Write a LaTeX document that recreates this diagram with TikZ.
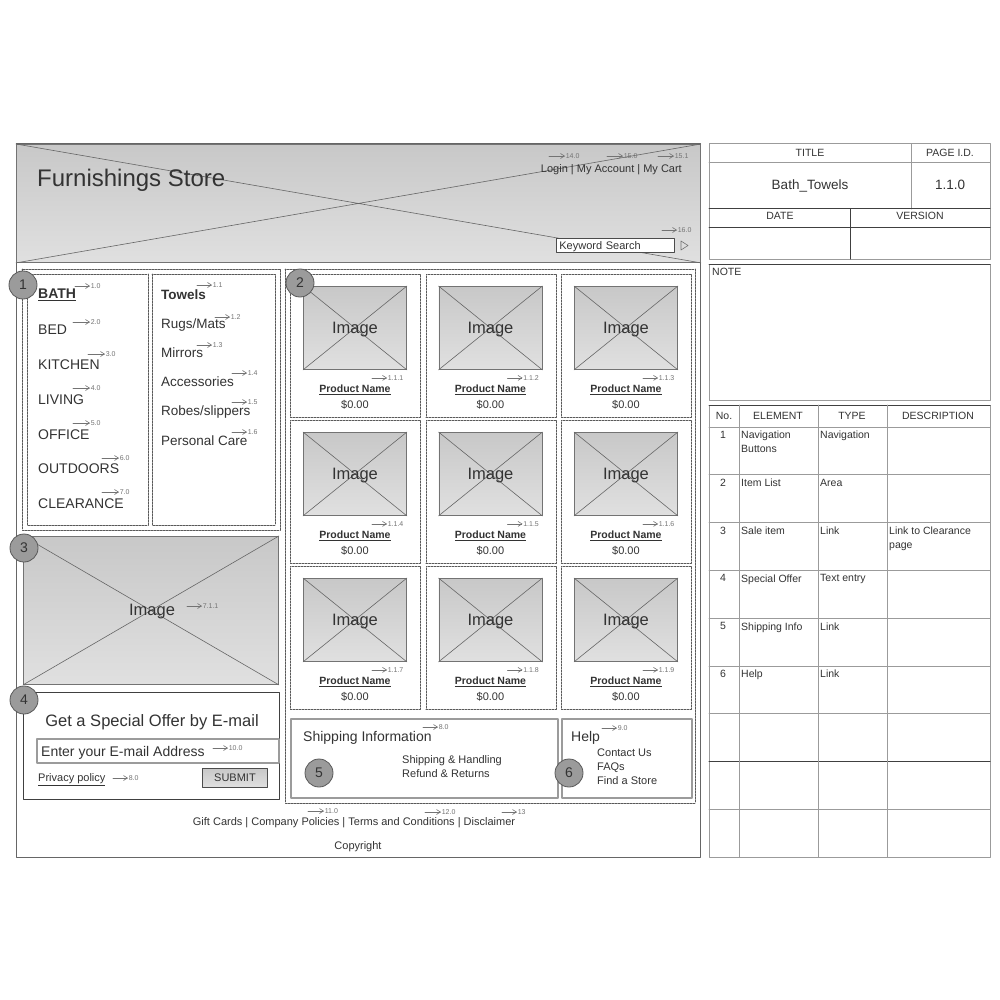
\documentclass[tikz,border=0pt]{standalone}
\usepackage{fontspec}
\setmainfont{Liberation Sans}
\usetikzlibrary{positioning,calc,arrows.meta}
\definecolor{ink}{RGB}{51,51,51}
\definecolor{soft}{RGB}{115,115,115}
\definecolor{shadetop}{RGB}{200,200,200}
\definecolor{shadebot}{RGB}{224,224,224}
\definecolor{rule}{RGB}{155,155,155}
\definecolor{markfill}{RGB}{155,155,155}
\newcommand{\fsz}[1]{\fontsize{#1}{#1}\selectfont}
% arrow + number tag: [length]{name}{start}{label}
\newcommand{\callout}[4][15]{%
  \coordinate (#2s) at (#3);
  \node[calltext, right=#1pt of #2s] (#2) {#4};
  \draw[callarrow] (#2s) -- (#2.west);
}
\begin{document}
\begin{tikzpicture}[x=1pt, y=-1pt, line cap=round, line join=round,
  font=\fsz{11}, >={Straight Barb[length=4pt,width=5pt]},
  txt/.style={inner sep=0pt, text=ink, text depth=0pt},
  calltext/.style={inner sep=0.6pt, text=soft, font=\fsz{7}},
  callarrow/.style={->, draw=soft, line width=0.6pt},
  marker/.style={circle, draw=black!65, fill=markfill, line width=0.8pt,
    minimum size=28pt, inner sep=0pt, text=ink, font=\fsz{14}},
  shadebox/.style={draw=black!55, line width=0.9pt, top color=shadetop,
    bottom color=shadebot, inner sep=0pt},
  xline/.style={draw=black!60, line width=0.6pt},
  dashbox/.style={draw=black!65, line width=0.6pt, dash pattern=on 2pt off 1pt},
  panel/.style={draw=rule, line width=1.4pt},
  grid/.style={draw=rule, line width=1pt},
  darkgrid/.style={draw=black!75, line width=1pt},
  navtext/.style={txt, font=\fsz{14}, anchor=west},
  subtext/.style={txt, font=\fsz{13.5}, anchor=west},
  celltxt/.style={txt, font=\fontsize{10.5}{14}\selectfont, align=left}]
\fill[white] (0,0) rectangle (1000,1000);
\useasboundingbox (0,0) rectangle (1000,1000);
% page frame and header
\draw[black!60, line width=1pt] (16,144) rectangle (700,857);
\node[shadebox, anchor=north west, minimum width=684pt, minimum height=118pt] (header) at (16,144) {};
\draw[xline] (header.north west) -- (header.south east) (header.south west) -- (header.north east);
\node[txt, font=\fsz{24}, anchor=west] (store) at (37,178) {Furnishings Store};
\node[txt, anchor=east] (account) at (682,169) {Login | My Account | My Cart};
\callout[16]{cl140}{549,156}{14.0}
\callout[16]{cl150}{607,156}{15.0}
\callout[16]{cl151}{658,156}{15.1}
\node[txt, draw=black!70, fill=white, line width=0.8pt, anchor=north west, minimum width=118pt,
  minimum height=14pt, inner xsep=3pt, text width=112pt] (search) at (556,238) {Keyword Search};
\draw[soft, line width=0.6pt] (681,241) -- (688,245.5) -- (681,250) -- cycle;
\callout{cl160}{662,230}{16.0}
% navigation
\draw[dashbox] (22,269) rectangle (280,530);
\draw[dashbox] (27,274) rectangle (148,525);
\draw[dashbox] (152,274) rectangle (275,525);
\node[navtext, font=\bfseries\fsz{14}] (bath) at (38,294) {\underline{BATH}};
\callout{clnav1}{75,286}{1.0}
\foreach \name/\ty/\cx/\cy/\lab [count=\i from 2] in {BED/330/73/322/2.0,
    KITCHEN/365/88/354/3.0, LIVING/400/73/388/4.0, OFFICE/435/73/423/5.0,
    OUTDOORS/469/102/458/6.0, CLEARANCE/504/102/492/7.0} {
  \node[navtext] (nav\i) at (38,\ty) {\name};
  \callout[17]{clnav\i}{\cx,\cy}{\lab}
}
\node[subtext, font=\bfseries\fsz{13.5}] (towels) at (161,295) {Towels};
\callout{clsub1}{197,285}{1.1}
\foreach \name/\ty/\cx/\cy/\lab [count=\i from 2] in {{Rugs/Mats}/324/215/317/1.2,
    Mirrors/353/197/345/1.3, Accessories/382/232/373/1.4,
    {Robes/slippers}/411/232/402/1.5, Personal Care/441/232/432/1.6} {
  \node[subtext] (sub\i) at (161,\ty) {\name};
  \callout{clsub\i}{\cx,\cy}{\lab}
}
\node[marker] (m1) at (23,285) {1};
% item list
\draw[dashbox] (285,269) rectangle (695,803);
\foreach \r in {0,1,2} {
  \foreach \c in {0,1,2} {
    \pgfmathsetmacro\cx{290+135.5*\c}
    \pgfmathsetmacro\cy{274+146*\r}
    \pgfmathtruncatemacro\k{3*\r+\c+1}
    \node[dashbox, inner sep=0pt, anchor=north west, minimum width=130pt, minimum height=143pt] (cell\k) at (\cx,\cy) {};
    \node[shadebox, anchor=north west, minimum width=103pt, minimum height=83pt] (img\k)
      at ([xshift=13pt, yshift=-12pt]cell\k.north west) {};
    \draw[xline] (img\k.north west) -- (img\k.south east) (img\k.south west) -- (img\k.north east);
    \node[txt, font=\fsz{16.5}] (imgtxt\k) at (img\k) {Image};
    \callout{clp\k}{$(img\k.south west)+(69,8)$}{1.1.\k}
    \node[txt, font=\bfseries\fsz{10.5}] (pname\k) at ($(img\k.south)+(0,19)$) {\underline{Product Name}};
    \node[txt, font=\fsz{11}] (price\k) at ($(img\k.south)+(0,35)$) {\$0.00};
  }
}
\node[marker] (m2) at (300,283) {2};
% sale item
\node[shadebox, anchor=north west, minimum width=255pt, minimum height=148pt] (sale) at (23,536) {};
\draw[xline] (sale.north west) -- (sale.south east) (sale.south west) -- (sale.north east);
\node[txt, font=\fsz{16.5}] (saletxt) at (152,610) {Image};
\callout{clsale}{187,606}{7.1.1}
\node[marker] (m3) at (24,548) {3};
% special offer
\draw[black!75, line width=1pt] (23,692) rectangle (279,799);
\node[txt, font=\fsz{16.5}] (offer) at (152,721) {Get a Special Offer by E-mail};
\draw[panel] (37,739) rectangle (279,763);
\node[txt, font=\fsz{14}, anchor=west] (email) at (41,751) {Enter your E-mail Address};
\callout{clmail}{213,748}{10.0}
\node[txt, font=\fsz{11}, anchor=west] (privacy) at (38,778) {\underline{Privacy policy}};
\callout{clpriv}{113,778}{8.0}
\node[shadebox, draw=black!70, anchor=north west, minimum width=65pt, minimum height=19pt,
  font=\fsz{11}, text=ink] (submit) at (202,768) {SUBMIT};
\node[marker] (m4) at (24,700) {4};
% shipping and help
\draw[panel] (291,719) rectangle (558,798);
\node[txt, font=\fsz{14}, anchor=west] (ship) at (303,736) {Shipping Information};
\callout{clship}{423,727}{8.0}
\node[txt, anchor=west] (handling) at (402,760) {Shipping \& Handling};
\node[txt, anchor=west] (refund) at (402,774) {Refund \& Returns};
\node[marker] (m5) at (319,773) {5};
\draw[panel] (562,719) rectangle (692,798);
\node[txt, font=\fsz{14}, anchor=west] (help) at (571,736) {Help};
\callout{clhelp}{602,728}{9.0}
\node[txt, anchor=west] (contact) at (597,753) {Contact Us};
\node[txt, anchor=west] (faq) at (597,767) {FAQs};
\node[txt, anchor=west] (findstore) at (597,781) {Find a Store};
\node[marker] (m6) at (569,773) {6};
% footer
\node[txt] (links) at (354,822) {Gift Cards | Company Policies | Terms and Conditions | Disclaimer};
\callout[16]{clgift}{308,811}{11.0}
\callout[16]{clterms}{425,812}{12.0}
\callout{cldisc}{502,812}{13}
\node[txt] (copy) at (358,846) {Copyright};
% title block
\draw[grid] (709,144) rectangle (990,259);
\draw[grid] (709,163) -- (990,163) (911,144) -- (911,209);
\draw[darkgrid] (709,209) -- (990,209) (709,228) -- (990,228) (850,209) -- (850,259);
\node[txt, font=\fsz{10.5}] (ttitle) at (810,153) {TITLE};
\node[txt, font=\fsz{10.5}] (tpage) at (950,153) {PAGE I.D.};
\node[txt, font=\fsz{13.5}] (tname) at (810,185) {Bath\_Towels};
\node[txt, font=\fsz{13.5}] (tid) at (950,185) {1.1.0};
\node[txt, font=\fsz{10.5}] (tdate) at (780,216) {DATE};
\node[txt, font=\fsz{10.5}] (tver) at (920,216) {VERSION};
\draw[grid] (709,264) rectangle (990,400);
\draw[darkgrid] (709,264) -- (990,264);
\node[txt, font=\fsz{10.5}, anchor=north west] (note) at (712,268) {NOTE};
% element table
\draw[grid] (709,405) rectangle (990,857);
\draw[darkgrid] (709,405) -- (990,405);
\draw[grid] (709,427) -- (990,427);
\foreach \i in {1,...,8} {
  \draw[grid] (709,{427+47.8*\i}) -- (990,{427+47.8*\i});
}
\draw[darkgrid] (709,{427+47.8*7}) -- (990,{427+47.8*7});
\foreach \x in {739,818,887} {
  \draw[grid] (\x,405) -- (\x,857);
}
\node[txt, font=\fsz{10.5}] (hno) at (724,416) {No.};
\node[txt, font=\fsz{10.5}] (hel) at (778,416) {ELEMENT};
\node[txt, font=\fsz{10.5}] (hty) at (852,416) {TYPE};
\node[txt, font=\fsz{10.5}] (hde) at (938,416) {DESCRIPTION};
\foreach \el/\ty [count=\i] in {{Navigation\\Buttons}/Navigation, Item List/Area,
    Sale item/Link, Special Offer/Text entry, Shipping Info/Link, Help/Link} {
  \pgfmathsetmacro\ry{431+47.8*(\i-1)}
  \node[celltxt, anchor=north] (no\i) at (723,\ry) {\i};
  \node[celltxt, anchor=north west] (el\i) at (741,\ry) {\el};
  \node[celltxt, anchor=north west] (ty\i) at (820,\ry) {\ty};
}
\node[celltxt, anchor=north west] (de3) at (889,527) {Link to Clearance\\page};
\end{tikzpicture}
\end{document}
